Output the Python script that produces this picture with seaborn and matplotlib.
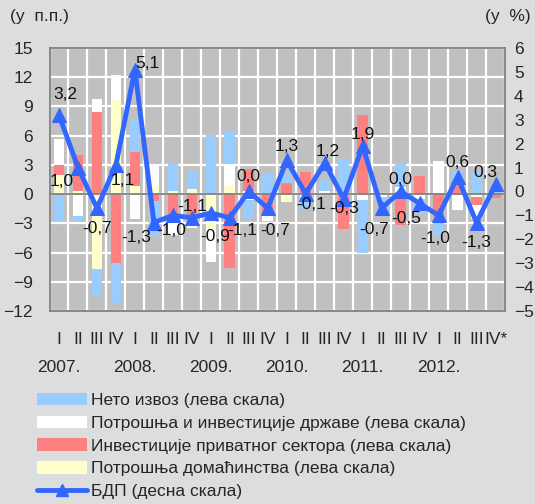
import numpy as np
import matplotlib
matplotlib.use('Agg')
import matplotlib.pyplot as plt
from matplotlib.patches import Patch
from matplotlib.lines import Line2D
from matplotlib.transforms import blended_transform_factory
import seaborn as sns

# quarters 2007 Q1 .. 2012 Q4
quarters = ['I', 'II', 'III', 'IV'] * 5 + ['I', 'II', 'III', 'IV*']
years = ['2007.', '2008.', '2009.', '2010.', '2011.', '2012.']

# contributions, p.p. (left scale)
household = [2.0, 0.3, -7.65, 9.65, 0.8, 0.95, 0.3, 0.5,
             -3.6, 0.9, 0.3, 0.0, -0.8, 0.0, 0.0, 0.0,
             0.0, 0.0, -0.5, 0.0, 0.0, 0.0, -0.3, 0.0]
private_inv = [1.0, 3.7, 8.45, -7.1, 3.5, -0.75, -3.0, -2.9,
               0.0, -7.6, 2.3, -2.1, 1.1, 2.3, 0.0, -3.6,
               8.1, 0.0, -2.7, 1.9, -2.3, 1.0, -0.8, -0.4]
government = [2.7, -2.2, 1.3, 2.6, -2.55, 1.9, -1.15, -0.6,
              -3.4, 2.2, -0.6, -0.7, 0.0, -0.4, 0.3, 0.0,
              -0.6, -0.3, 0.7, -0.5, 3.4, -1.6, -1.5, 0.0]
net_export = [-2.75, -0.7, -2.75, -4.1, 3.4, -3.45, 2.85, 1.9,
              6.1, 3.4, -2.0, 2.1, 1.1, -1.1, 1.3, 3.6,
              -5.4, -0.5, 2.5, -1.5, -1.9, 1.4, 2.3, 0.6]
# GDP, % (right scale)
gdp = [3.2, 1.0, -0.7, 1.1, 5.1, -1.3, -1.0, -1.1,
       -0.9, -1.1, 0.0, -0.7, 1.3, -0.1, 1.2, -0.3,
       1.9, -0.7, 0.0, -0.5, -1.0, 0.6, -1.3, 0.3]

names = ['Нето извоз (лева скала)',
         'Потрошња и инвестиције државе (лева скала)',
         'Инвестиције приватног сектора (лева скала)',
         'Потрошња домаћинства (лева скала)',
         'БДП (десна скала)']

C_NX, C_GOV, C_INV, C_HH = '#99CCFF', '#FFFFFF', '#FF8080', '#FFFFCC'
C_GDP = '#3366FF'
BG = '#DCDDDF'
FS = 12.5

# label offsets for GDP values, pixels (dx right, dy up)
label_offsets = [(6, 20), (-16, -14), (0, -20), (7, -15), (13, 6), (-18, -15),
                 (-2, -15), (0, 11), (4, -24), (12, -13), (0, 15), (7, -22),
                 (0, 14), (5, -11), (3, 11), (0, -10), (0, 12), (-8, -21),
                 (0, 12), (-13, -15), (-3, -23), (0, 15), (0, -20), (-10, 12)]

sns.set_theme(style='white')
plt.rcParams['font.family'] = ['Liberation Sans', 'DejaVu Sans']

fig = plt.figure(figsize=(5.35, 5.04), dpi=100, facecolor=BG)
ax = fig.add_axes([49.5 / 535, 1 - 311 / 504, 455.5 / 535, 263 / 504])
ax.set_facecolor('#C0C0C0')

x = np.arange(len(quarters))
pos_base = np.zeros(len(x))
neg_base = np.zeros(len(x))
for vals, col in zip([household, private_inv, government, net_export],
                     [C_HH, C_INV, C_GOV, C_NX]):
    v = np.array(vals)
    pos = np.where(v > 0, v, 0)
    neg = np.where(v < 0, v, 0)
    ax.bar(x, pos, 0.56, bottom=pos_base, color=col, linewidth=0, zorder=2)
    ax.bar(x, neg, 0.56, bottom=neg_base, color=col, linewidth=0, zorder=2)
    pos_base += pos
    neg_base += neg

ax.axhline(0, color='#808080', lw=1.3, zorder=3)
ax.set_xlim(-0.5, len(x) - 0.5)
ax.set_ylim(-12, 15)
ax.set_yticks(range(-12, 16, 3))
ax.set_xticks(x)
ax.set_xticklabels(quarters)
ax.set_xticks(np.arange(len(x) + 1) - 0.5, minor=True)
ax.set_axisbelow(True)
ax.grid(True, which='major', axis='y', color='white', lw=1.6)
ax.grid(True, which='minor', axis='x', color='white', lw=1.6)
ax.tick_params(axis='x', which='both', length=0, pad=15, labelsize=FS)
ax.tick_params(axis='y', length=0, pad=12, labelsize=FS)
for s in ax.spines.values():
    s.set_color('#808080')
    s.set_linewidth(1.3)

ax2 = ax.twinx()
sns.lineplot(x=x, y=gdp, ax=ax2, color=C_GDP, lw=3.5, marker='^',
             markersize=10, markeredgecolor=C_GDP, zorder=5)
ax2.set_ylim(-5, 6)
ax2.set_yticks(range(-5, 7))
ax2.tick_params(axis='y', length=0, pad=6.5, labelsize=FS)
ax2.set_xlabel('')
ax2.set_ylabel('')
for s in ax2.spines.values():
    s.set_visible(False)

for xi, v, (dx, dy) in zip(x, gdp, label_offsets):
    ax2.annotate(f'{v:.1f}'.replace('.', ','), (xi, v),
                 xytext=(dx * 0.72, dy * 0.72), textcoords='offset points',
                 ha='center', va='center', fontsize=FS, color='#111111', zorder=6)

trans = blended_transform_factory(ax.transData, fig.transFigure)
for i, yr in enumerate(years):
    ax.text(i * 4, 1 - 367 / 504, yr, transform=trans, ha='center', va='center',
            fontsize=FS)

fig.text(10 / 535, 1 - 17 / 504, '(у  п.п.)', ha='left', va='center', fontsize=FS)
fig.text(531 / 535, 1 - 17 / 504, '(у  %)', ha='right', va='center', fontsize=FS)

handles = [Patch(facecolor=C_NX, edgecolor='none'),
           Patch(facecolor=C_GOV, edgecolor='none'),
           Patch(facecolor=C_INV, edgecolor='none'),
           Patch(facecolor=C_HH, edgecolor='none'),
           Line2D([], [], color=C_GDP, lw=3.5, marker='^', markersize=8)]
fig.legend(handles, names, loc='upper left', bbox_to_anchor=(37 / 535, 1 - 393 / 504),
           frameon=False, fontsize=FS, handlelength=2.9, handleheight=0.72,
           handletextpad=0.2, labelspacing=0.43, borderpad=0, borderaxespad=0)

fig.savefig('out.png', dpi=100, facecolor=BG)
